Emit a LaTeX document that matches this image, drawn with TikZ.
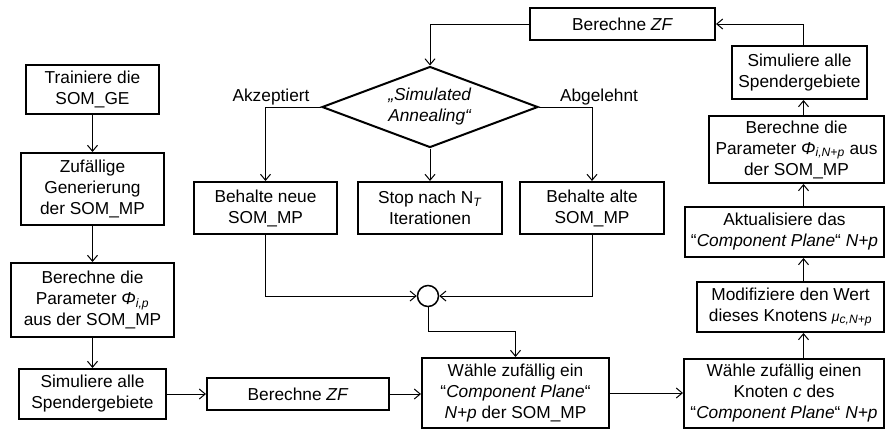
\documentclass[tikz,border=0pt]{standalone}
\usepackage{fontspec}
\setmainfont{Liberation Sans}
\usetikzlibrary{arrows.meta,shapes.geometric}
\begin{document}
\begin{tikzpicture}[x=1pt,y=-1pt,
  every node/.style={font=\fontsize{17.3}{21}\selectfont},
  box/.style={draw,line width=2pt,align=center,inner sep=0pt},
  dia/.style={draw,line width=2pt,shape=diamond,aspect=2.667,inner sep=0pt,align=center,minimum width=216pt,minimum height=81pt},
  junc/.style={draw,line width=1.5pt,circle,inner sep=0pt,minimum size=21pt},
  lbl/.style={inner sep=0pt},
  arr/.style={line width=1pt,-{Straight Barb[length=6pt,width=10pt,line width=1pt]}},
  ln/.style={line width=1pt}]
\useasboundingbox (0,0) rectangle (886,432);
% left column
\node[box,minimum width=133pt,minimum height=49pt] (b1) at (92.5,89.5) {Trainiere die\\SOM\_GE};
\node[box,minimum width=143pt,minimum height=72pt] (b2) at (92.5,189) {Zufällige\\Generierung\\der SOM\_MP};
\node[box,minimum width=163pt,minimum height=74pt] (b3) at (92.5,300) {Berechne die\\Parameter \textit{Φ}\textsubscript{\textit{i,p}}\\aus der SOM\_MP};
\node[box,minimum width=147pt,minimum height=50pt] (b4) at (92.5,394) {Simuliere alle\\Spendergebiete};
% bottom row
\node[box,minimum width=182pt,minimum height=32pt] (b5) at (298,394) {Berechne \textit{ZF}};
\node[box,minimum width=187pt,minimum height=70pt] (b6) at (515.5,393) {Wähle zufällig ein\\“\textit{Component Plane}“\\\textit{N+p} der SOM\_MP};
\node[box,minimum width=200pt,minimum height=69pt] (b7) at (784,393.5) {Wähle zufällig einen\\Knoten \textit{c} des\\“\textit{Component Plane}“ \textit{N+p}};
% right column
\node[box,minimum width=187pt,minimum height=50pt] (b8) at (790.5,307) {Modifiziere den Wert\\dieses Knotens {\fontsize{14}{14}\selectfont\textit{μ}}\textsubscript{\textit{c,N+p}}};
\node[box,minimum width=199pt,minimum height=50pt] (b9) at (784.5,232) {Aktualisiere das\\“\textit{Component Plane}“ \textit{N+p}};
\node[box,minimum width=175pt,minimum height=67pt] (b10) at (796.5,149.5) {Berechne die\\Parameter \textit{Φ}\textsubscript{\textit{i,N+p}} aus\\der SOM\_MP};
\node[box,minimum width=135pt,minimum height=53pt] (b11) at (799.5,72.5) {Simuliere alle\\Spendergebiete};
\node[box,minimum width=185pt,minimum height=32pt] (b12) at (622.5,24) {Berechne \textit{ZF}};
% middle
\node[dia] (d) at (430,107) {\textit{„Simulated}\\\textit{Annealing“}};
\node[box,minimum width=143pt,minimum height=52pt] (b13) at (265.5,208) {Behalte neue\\SOM\_MP};
\node[box,minimum width=144pt,minimum height=52pt] (b14) at (430,208) {Stop nach N\textsubscript{\textit{T}}\\Iterationen};
\node[box,minimum width=144pt,minimum height=52pt] (b15) at (592,208) {Behalte alte\\SOM\_MP};
\node[junc] (c) at (428,296) {};
\node[lbl] (la) at (271,97) {Akzeptiert};
\node[lbl] (lr) at (599,97) {Abgelehnt};
\coordinate (xc) at (803.5,0);
% connectors
\draw[arr] (b1) -- (b2);
\draw[arr] (b2) -- (b3);
\draw[arr] (b3) -- (b4);
\draw[arr] (b4) -- (b5);
\draw[arr] (b5.east) -- (b5.east -| b6.west);
\draw[arr] (b6.east) -- (b6.east -| b7.west);
\draw[arr] (b7.north -| xc) -- (b8.south -| xc);
\draw[arr] (b8.north -| xc) -- (b9.south -| xc);
\draw[arr] (b9.north -| xc) -- (b10.south -| xc);
\draw[arr] (b10.north -| xc) -- (b11.south -| xc);
\draw[arr] (b11.north -| xc) |- (b12.east);
\draw[arr] (b12.west) -| (d.north);
\draw[arr] (d.west) -| (b13.north);
\draw[arr] (d.east) -| (b15.north);
\draw[arr] (d.south) -- (b14.north);
\draw[arr] (b13.south) |- (c.west);
\draw[arr] (b15.south) |- (c.east);
\draw[arr] (c.south) |- ([yshift=26pt]b6.north) -- (b6.north);
\end{tikzpicture}
\end{document}
